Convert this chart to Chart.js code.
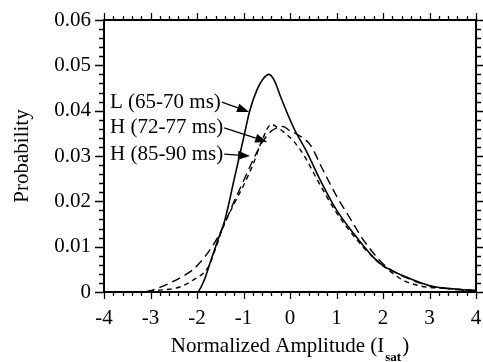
<!DOCTYPE html>
<html>
<head>
<meta charset="utf-8">
<script src="https://cdn.jsdelivr.net/npm/chart.js@4.4.0/dist/chart.umd.min.js"></script>
<style>
    html, body { margin: 0; padding: 0; background: #fff; }
</style>
</head>
<body>
<canvas id="probChart" width="483" height="362"></canvas>
<script>
// --- data ---
const xTicks = [-4, -3, -2, -1, 0, 1, 2, 3, 4];
const yTicks = [0, 0.01, 0.02, 0.03, 0.04, 0.05, 0.06];

// L (65-70 ms), solid
const lX = [-4, -3, -2.0, -1.85, -1.72, -1.55, -1.4, -1.2, -1.0, -0.86, -0.71, -0.58, -0.45, -0.33, -0.2, 0.07, 0.37, 0.65, 1.0, 1.36, 1.79, 2.0, 2.5, 3.0, 3.5, 4.0];
const lY = [0, 0, 0, 0.0025, 0.0064, 0.0115, 0.0159, 0.0249, 0.0339, 0.0402, 0.0446, 0.047, 0.048, 0.0465, 0.043, 0.0364, 0.0307, 0.0247, 0.0181, 0.013, 0.0077, 0.0058, 0.0033, 0.0014, 0.0007, 0.0003];

// H (72-77 ms), long dashes
const h1X = [-4, -3.2, -3.0, -2.8, -2.54, -2.3, -2.09, -1.98, -1.68, -1.44, -1.2, -1.0, -0.8, -0.6, -0.4, -0.25, -0.15, 0, 0.2, 0.43, 0.71, 1.01, 1.29, 1.55, 1.8, 2.0, 2.4, 3.0, 3.5, 4.0];
const h1Y = [0, 0, 0.0003, 0.001, 0.0022, 0.0035, 0.0049, 0.006, 0.0099, 0.0143, 0.02, 0.0245, 0.029, 0.033, 0.0355, 0.0363, 0.0365, 0.0355, 0.0345, 0.0325, 0.0269, 0.021, 0.0163, 0.0119, 0.0085, 0.0062, 0.0036, 0.0014, 0.0006, 0.0003];

// H (85-90 ms), short dashes
const h2X = [-4, -3.2, -3.0, -2.6, -2.37, -2.09, -1.76, -1.61, -1.44, -1.2, -1.0, -0.8, -0.6, -0.4, -0.3, -0.1, 0.1, 0.32, 0.6, 1.0, 1.4, 1.8, 2.1, 2.43, 2.7, 2.93, 3.3, 3.6, 4.0];
const h2Y = [0, 0, 0.0003, 0.0006, 0.0011, 0.0026, 0.0055, 0.0093, 0.0143, 0.0195, 0.0235, 0.028, 0.0335, 0.037, 0.0365, 0.035, 0.033, 0.0298, 0.0245, 0.0175, 0.012, 0.0075, 0.005, 0.0026, 0.0016, 0.0011, 0.0008, 0.0006, 0.0003];

const seriesLabels = ['L (65-70 ms)', 'H (72-77 ms)', 'H (85-90 ms)'];

// label + arrow tip, in data units
const notes = [
    { text: seriesLabels[0], at: [-3.87, 0.0419], tip: [-0.88, 0.0397] },
    { text: seriesLabels[1], at: [-3.87, 0.0362], tip: [-0.49, 0.0331] },
    { text: seriesLabels[2], at: [-3.87, 0.0304], tip: [-0.86, 0.0300] }
];

const FONT = '"Liberation Serif", "DejaVu Serif", serif';
const toPts = (xs, ys) => xs.map((v, i) => ({ x: v, y: ys[i] }));

// --- frame + minor ticks ---
const frameTicks = {
    id: 'frameTicks',
    afterDraw(chart) {
        const { ctx, chartArea: a, scales: { x, y } } = chart;
        ctx.save();
        ctx.strokeStyle = '#000';
        ctx.lineWidth = 2;
        ctx.strokeRect(a.left, a.top, a.right - a.left, a.bottom - a.top);

        ctx.lineWidth = 1.3;
        ctx.beginPath();
        for (let i = 0; i <= 40; i++) {
            const px = Math.round(x.getPixelForValue(-4 + i * 0.2)) + 0.5;
            const len = i % 5 === 0 ? 7 : 4;
            ctx.moveTo(px, a.bottom); ctx.lineTo(px, a.bottom + len);
            ctx.moveTo(px, a.top); ctx.lineTo(px, a.top - len);
        }
        for (let i = 0; i <= 30; i++) {
            const py = Math.round(y.getPixelForValue(i * 0.002)) + 0.5;
            const len = i % 5 === 0 ? 9 : 5;
            ctx.moveTo(a.left, py); ctx.lineTo(a.left - len, py);
            ctx.moveTo(a.right, py); ctx.lineTo(a.right + len, py);
        }
        ctx.stroke();
        ctx.restore();
    }
};

// --- labels with arrows, and the x axis title with subscript ---
const notesPlugin = {
    id: 'notesPlugin',
    afterDraw(chart) {
        const { ctx, chartArea: a, scales: { x, y } } = chart;
        ctx.save();
        ctx.fillStyle = '#000';
        ctx.strokeStyle = '#000';
        ctx.font = '21px ' + FONT;
        ctx.textBaseline = 'middle';
        notes.forEach(n => {
            const tx = x.getPixelForValue(n.at[0]);
            const ty = y.getPixelForValue(n.at[1]);
            ctx.fillText(n.text, tx, ty);
            const sx = tx + ctx.measureText(n.text).width + 1;
            const ex = x.getPixelForValue(n.tip[0]);
            const ey = y.getPixelForValue(n.tip[1]);
            const ang = Math.atan2(ey - ty, ex - sx);
            const hl = 12, hw = 4.5;
            const bx = ex - hl * Math.cos(ang), by = ey - hl * Math.sin(ang);
            ctx.lineWidth = 1.3;
            ctx.beginPath();
            ctx.moveTo(sx, ty);
            ctx.lineTo(bx, by);
            ctx.stroke();
            ctx.beginPath();
            ctx.moveTo(ex, ey);
            ctx.lineTo(bx - hw * Math.sin(ang), by + hw * Math.cos(ang));
            ctx.lineTo(bx + hw * Math.sin(ang), by - hw * Math.cos(ang));
            ctx.closePath();
            ctx.fill();
        });

        // x title: Normalized Amplitude (I_sat)
        const main = 'Normalized Amplitude (I';
        const sub = 'sat';
        ctx.textBaseline = 'alphabetic';
        ctx.font = '21px ' + FONT;
        const wMain = ctx.measureText(main).width;
        const wClose = ctx.measureText(')').width;
        ctx.font = 'bold 13px ' + FONT;
        const wSub = ctx.measureText(sub).width + 2;
        const total = wMain + wSub + wClose;
        let cx = (a.left + a.right) / 2 - total / 2;
        ctx.font = '21px ' + FONT;
        ctx.fillText(main, cx, 352);
        ctx.font = 'bold 13px ' + FONT;
        ctx.fillText(sub, cx + wMain + 1, 361);
        ctx.font = '21px ' + FONT;
        ctx.fillText(')', cx + wMain + wSub, 352);
        ctx.restore();
    }
};

const ctx = document.getElementById('probChart').getContext('2d');
const probChart = new Chart(ctx, {
    type: 'line',
    data: {
        datasets: [
            {
                label: seriesLabels[0],
                data: toPts(lX, lY),
                borderColor: '#000',
                borderWidth: 1.6,
                pointRadius: 0,
                cubicInterpolationMode: 'monotone'
            },
            {
                label: seriesLabels[1],
                data: toPts(h1X, h1Y),
                borderColor: '#000',
                borderWidth: 1.4,
                borderDash: [9, 5],
                pointRadius: 0,
                cubicInterpolationMode: 'monotone'
            },
            {
                label: seriesLabels[2],
                data: toPts(h2X, h2Y),
                borderColor: '#000',
                borderWidth: 1.4,
                borderDash: [5, 4],
                pointRadius: 0,
                cubicInterpolationMode: 'monotone'
            }
        ]
    },
    options: {
        responsive: false,
        animation: false,
        layout: { autoPadding: false, padding: { left: 0, right: 7, top: 20, bottom: 0 } },
        plugins: {
            legend: { display: false },
            tooltip: { enabled: false }
        },
        scales: {
            x: {
                type: 'linear',
                min: -4,
                max: 4,
                afterBuildTicks: s => { s.ticks = xTicks.map(v => ({ value: v })); },
                afterFit: s => { s.height = 70; s.paddingLeft = 0; s.paddingRight = 0; },
                grid: { display: false, drawTicks: false },
                border: { display: false },
                ticks: {
                    color: '#000',
                    padding: 14,
                    maxRotation: 0,
                    font: { family: FONT, size: 21 },
                    callback: v => String(v)
                }
            },
            y: {
                type: 'linear',
                min: 0,
                max: 0.06,
                afterBuildTicks: s => { s.ticks = yTicks.map(v => ({ value: v })); },
                afterFit: s => { s.width = 104; s.paddingTop = 0; s.paddingBottom = 0; },
                grid: { display: false, drawTicks: false },
                border: { display: false },
                title: {
                    display: true,
                    text: 'Probability',
                    color: '#000',
                    padding: { top: 10, bottom: 0 },
                    font: { family: FONT, size: 21 }
                },
                ticks: {
                    color: '#000',
                    padding: 13,
                    font: { family: FONT, size: 21 },
                    callback: v => String(v)
                }
            }
        }
    },
    plugins: [frameTicks, notesPlugin]
});
</script>
</body>
</html>
